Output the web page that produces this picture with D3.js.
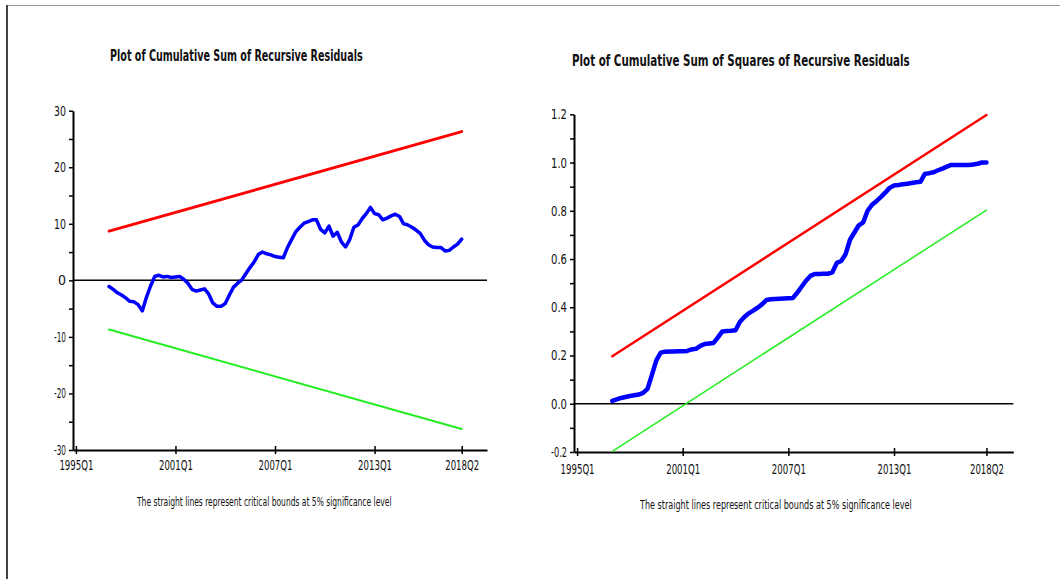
<!DOCTYPE html>
<html><head><meta charset="utf-8">
<script src="https://cdn.jsdelivr.net/npm/d3@7"></script>
<style>
html,body{margin:0;padding:0;background:#fff;}
svg{display:block;}
text{font-family:"Liberation Sans Narrow","Arial Narrow","DejaVu Sans Condensed","Liberation Sans",Arial,sans-serif;fill:#111;}
</style></head>
<body>
<svg id="c" width="1060" height="579"></svg>
<script>
// ---- data (quarter index: 0 = 1995Q1) ----
const startQuarter = 8; // 1997Q1
const endQuarter = 93;  // 2018Q2
const xTickQuarters = [0, 24, 48, 72, 93];
const xTickLabels = ["1995Q1", "2001Q1", "2007Q1", "2013Q1", "2018Q2"];

const cusumValues = [
 -1.1,-1.6,-2.2,-2.6,-3.1,-3.7,-3.8,-4.3,-5.4,-3.0,
 -1.0,0.7,0.9,0.6,0.7,0.5,0.6,0.7,0.2,-0.5,
 -1.6,-1.9,-1.7,-1.5,-2.4,-4.0,-4.6,-4.6,-4.1,-2.6,
 -1.2,-0.5,0.1,1.2,2.3,3.3,4.6,5.0,4.7,4.5,
 4.2,4.1,4.0,5.8,7.2,8.6,9.4,10.1,10.4,10.7,
 10.7,9.0,8.4,9.6,7.8,8.5,6.8,5.9,7.2,9.4,
 9.8,10.9,11.8,12.9,11.8,11.6,10.7,11.0,11.4,11.7,
 11.3,10.0,9.8,9.4,8.9,8.3,7.1,6.3,5.9,5.8,
 5.8,5.2,5.3,5.9,6.4,7.3
];
const cusumUpper = [8.7, 26.3];   // at startQuarter, endQuarter
const cusumLower = [-8.7, -26.3];

const cusumsqValues = [
 0.012,0.018,0.024,0.028,0.032,0.035,0.038,0.045,0.062,0.12,
 0.18,0.212,0.216,0.217,0.217,0.218,0.218,0.219,0.225,0.228,
 0.24,0.248,0.25,0.252,0.275,0.30,0.302,0.303,0.305,0.34,
 0.36,0.375,0.386,0.398,0.412,0.43,0.433,0.434,0.435,0.436,
 0.437,0.438,0.46,0.485,0.51,0.53,0.538,0.538,0.539,0.539,
 0.545,0.584,0.592,0.62,0.68,0.71,0.74,0.752,0.80,0.825,
 0.84,0.857,0.875,0.895,0.905,0.907,0.91,0.912,0.915,0.918,
 0.92,0.953,0.956,0.96,0.968,0.975,0.983,0.99,0.99,0.99,
 0.99,0.99,0.992,0.995,1.0,1.0
];
const cusumsqUpper = [0.197, 1.197];
const cusumsqLower = [-0.197, 0.803];

const cusumYTicks = [30,25,20,15,10,5,0,-5,-10,-15,-20,-25,-30];
const cusumsqYTicks = [1.2,1.1,1.0,0.9,0.8,0.7,0.6,0.5,0.4,0.3,0.2,0.1,0.0,-0.1,-0.2];

const titles = ["Plot of Cumulative Sum of Recursive Residuals",
                "Plot of Cumulative Sum of Squares of Recursive Residuals"];
const caption = "The straight lines represent critical bounds at 5% significance level";

// ---- drawing ----
const svg = d3.select("#c");

// page frame
svg.append("line").attr("x1",7).attr("x2",1060).attr("y1",5.5).attr("y2",5.5)
  .attr("stroke","#9a9a9a").attr("stroke-width",1);
svg.append("line").attr("x1",7).attr("x2",7).attr("y1",5).attr("y2",579)
  .attr("stroke","#444").attr("stroke-width",2);

// fit a text to a target width
function fitWidth(sel, target){
  sel.each(function(){
    const el = d3.select(this);
    const w = this.getComputedTextLength();
    if (w > target * 1.02) {
      el.attr("textLength", target).attr("lengthAdjust","spacingAndGlyphs");
    }
  });
}
// text squeezed horizontally with a transform, left edge at x, baseline at y
function scaledText(parent, x, y, str, size, weight, target){
  const gg = parent.append("g").attr("transform", `translate(${x},${y})`);
  const t = gg.append("text").attr("x",0).attr("y",0)
    .attr("font-size", size).attr("font-weight", weight).attr("fill","#111").text(str);
  const w = t.node().getComputedTextLength();
  const s = Math.min(1, target / w);
  gg.attr("transform", `translate(${x},${y}) scale(${s.toFixed(4)},1)`);
  return t;
}

function panel(cfg){
  const x = d3.scaleLinear().domain([-0.7, 99.1]).range(cfg.xRange);
  const y = d3.scaleLinear().domain(cfg.yDomain).range(cfg.yRange);
  const g = svg.append("g");
  const qs = d3.range(startQuarter, endQuarter+1);

  // title
  scaledText(g, cfg.titleX, cfg.titleY, cfg.title, 16, "bold", cfg.titleW);

  // y axis
  const ya = g.append("g").attr("transform", `translate(${cfg.xRange[0]},0)`)
    .call(d3.axisLeft(y).tickValues(cfg.yTicks).tickSize(4).tickSizeOuter(0)
      .tickFormat(cfg.yFmt));
  ya.attr("font-family", null);
  ya.select(".domain").attr("stroke","#000").attr("stroke-width",2);
  ya.selectAll(".tick line").attr("stroke","#000").attr("stroke-width",1.5);
  ya.selectAll(".tick text").attr("font-size",14).attr("fill","#111").attr("x", -7);
  fitWidth(ya.selectAll(".tick text"), cfg.yLabelW);

  // x axis
  const xa = g.append("g").attr("transform", `translate(0,${y(cfg.yDomain[0])})`)
    .call(d3.axisBottom(x).tickValues(xTickQuarters).tickSize(4).tickSizeOuter(0)
      .tickFormat((d,i)=>xTickLabels[i]));
  xa.attr("font-family", null);
  xa.select(".domain").attr("stroke","#000").attr("stroke-width",2);
  xa.selectAll(".tick line").attr("stroke","#000").attr("stroke-width",1.5).attr("y1",-4).attr("y2",4);
  xa.selectAll(".tick text").attr("font-size",14).attr("fill","#111").attr("y", cfg.xLabelDy).attr("dy","0");
  fitWidth(xa.selectAll(".tick text"), 34);

  // zero line
  g.append("line").attr("x1", x.range()[0]).attr("x2", x.range()[1])
    .attr("y1", y(0)).attr("y2", y(0)).attr("stroke","#000").attr("stroke-width",1.5);

  const line = d3.line().x(d=>x(d[0])).y(d=>y(d[1]));
  // bounds
  g.append("path").datum([[startQuarter,cfg.upper[0]],[endQuarter,cfg.upper[1]]])
    .attr("d", line).attr("fill","none").attr("stroke","#ff0000")
    .attr("stroke-width", cfg.redW).attr("stroke-linecap","round");
  g.append("path").datum([[startQuarter,cfg.lower[0]],[endQuarter,cfg.lower[1]]])
    .attr("d", line).attr("fill","none").attr("stroke","#22ee22")
    .attr("stroke-width", cfg.greenW).attr("stroke-linecap","round");
  // series
  g.append("path").datum(qs.map((q,i)=>[q, cfg.values[i]]))
    .attr("d", line).attr("fill","none").attr("stroke","#0000ff")
    .attr("stroke-width", cfg.blueW).attr("stroke-linejoin","round").attr("stroke-linecap","round");

  // caption
  scaledText(g, cfg.capX, cfg.capY, caption, 12.5, "normal", cfg.capW);
}

panel({
  xRange:[73,487], yDomain:[-30,30], yRange:[450,110.7],
  yTicks: cusumYTicks, yFmt: d => (d % 10 === 0 ? String(d) : ""),
  yLabelW: 12, xLabelDy: 20,
  title: titles[0], titleX:110, titleY:61, titleW:253,
  values: cusumValues, upper: cusumUpper, lower: cusumLower,
  redW: 3, greenW: 2, blueW: 3.5,
  capX:137, capY:506, capW:255
});
panel({
  xRange:[574,1013.3], yDomain:[-0.2,1.2], yRange:[452,114.3],
  yTicks: cusumsqYTicks,
  yFmt: d => { const r = Math.round(d*10); return (r % 2 === 0) ? d3.format(".1f")(d).replace("\u2212","-") : ""; },
  yLabelW: 16, xLabelDy: 22,
  title: titles[1], titleX:572, titleY:66, titleW:338,
  values: cusumsqValues, upper: cusumsqUpper, lower: cusumsqLower,
  redW: 2.5, greenW: 1.5, blueW: 4.5,
  capX:640, capY:509, capW:272
});
</script>
</body></html>
